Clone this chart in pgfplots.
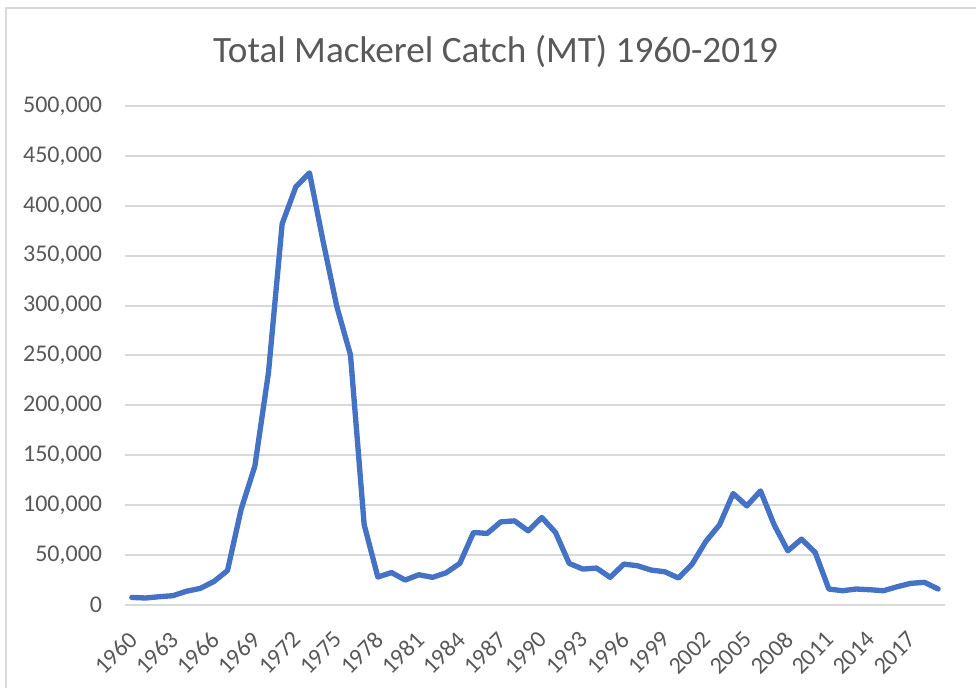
\documentclass[border=0pt]{standalone}
\usepackage{pgfplots}
\pgfplotsset{compat=1.18}
\usepackage{fontspec}
\setmainfont{Carlito}
\definecolor{txt}{HTML}{595959}
\definecolor{gridc}{HTML}{D9D9D9}
\definecolor{lineblue}{HTML}{4472C4}
\begin{document}
\begin{tikzpicture}
\begin{scope}[x=0.75pt,y=0.75pt]
\path[use as bounding box] (0,0) rectangle (976,688);
\draw[gridc, line width=1.5pt] (6,-20) -- (6,680) -- (1000,680);
\node[anchor=base, text=txt, font=\fontsize{27.9}{33}\selectfont] at (495.5,625) {Total Mackerel Catch (MT) 1960-2019};
\end{scope}
\begin{axis}[
  at={(93.75pt,62.25pt)}, anchor=south west,
  scale only axis, width=615pt, height=374.25pt,
  xmin=1959.5, xmax=2019.5, ymin=0, ymax=500000,
  axis line style={draw=none},
  major tick length=0pt,
  ytick={0,50000,...,500000},
  xtick={1960,1963,...,2017},
  ymajorgrids, major grid style={gridc, line width=1.5pt},
  scaled y ticks=false,
  /pgf/number format/assume math mode=true,
  yticklabel style={/pgf/number format/fixed, /pgf/number format/1000 sep={,}},
  xticklabel style={/pgf/number format/1000 sep={}},
  tick label style={text=txt, font=\fontsize{18}{21}\selectfont},
  every y tick label/.append style={anchor=east, inner sep=0pt, xshift=-17pt},
  every x tick label/.append style={xshift=1pt, yshift=-23pt, rotate=45, anchor=east, inner sep=0pt},
  clip=false,
]
\addplot[lineblue, line width=4pt, line join=round, line cap=round] coordinates {
(1960,7600) (1961,7000) (1962,8300) (1963,9300) (1964,13800) (1965,16600)
(1966,23500) (1967,34500) (1968,96000) (1969,139000) (1970,233000) (1971,382000)
(1972,419000) (1973,433000) (1974,364000) (1975,299000) (1976,250500) (1977,80500)
(1978,28000) (1979,32500) (1980,25000) (1981,30300) (1982,27700) (1983,32300)
(1984,41700) (1985,72700) (1986,71700) (1987,83300) (1988,84300) (1989,74300)
(1990,87700) (1991,72700) (1992,41700) (1993,36000) (1994,37000) (1995,27700)
(1996,41000) (1997,39300) (1998,35000) (1999,33300) (2000,27000) (2001,41000)
(2002,63700) (2003,80300) (2004,111700) (2005,99300) (2006,114300) (2007,80300)
(2008,54300) (2009,66000) (2010,52700) (2011,16000) (2012,14300) (2013,16000)
(2014,15300) (2015,14300) (2016,18300) (2017,21700) (2018,22700) (2019,16000)
};
\end{axis}
\end{tikzpicture}
\end{document}
